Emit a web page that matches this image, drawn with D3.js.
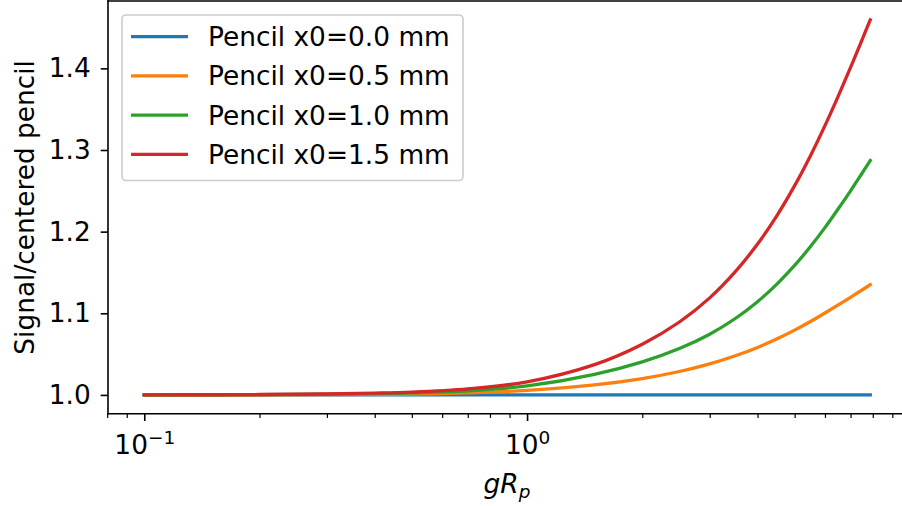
<!DOCTYPE html>
<html>
<head>
<meta charset="utf-8">
<script src="https://cdn.jsdelivr.net/npm/d3@7"></script>
<style>
  body { margin: 0; background: #fff; }
  svg { display: block; font-family: "DejaVu Sans", sans-serif; }
</style>
</head>
<body>
<svg id="chart" width="902" height="506"></svg>
<script>
// ---- data ----
const gValues = [0.1, 0.2, 0.3, 0.4, 0.5, 0.7, 1.0, 1.5, 2.0, 2.5, 3.0, 3.5, 4.0, 4.5, 5.0, 5.5, 6.0, 6.5, 7.0, 7.5, 7.88];
const pencil00 = [1.0, 1.0, 1.0, 1.0, 1.0, 1.0, 1.0, 1.0, 1.0, 1.0, 1.0, 1.0, 1.0, 1.0, 1.0, 1.0, 1.0, 1.0, 1.0, 1.0, 1.0];
const pencil05 = [1.0, 1.0001, 1.0003, 1.0006, 1.001, 1.0025, 1.0055, 1.0123, 1.0201, 1.0287, 1.038, 1.0479, 1.0582, 1.0688, 1.0794, 1.0899, 1.1003, 1.1102, 1.1196, 1.1285, 1.135];
const pencil10 = [1.0, 1.0003, 1.0008, 1.0015, 1.0025, 1.005, 1.011, 1.0252, 1.0405, 1.0568, 1.0744, 1.0936, 1.1142, 1.136, 1.1586, 1.1817, 1.2049, 1.228, 1.250, 1.2715, 1.287];
const pencil15 = [1.0, 1.0005, 1.0012, 1.0022, 1.0035, 1.0075, 1.016, 1.0371, 1.0621, 1.0893, 1.1189, 1.151, 1.1848, 1.22, 1.2563, 1.293, 1.3298, 1.366, 1.4011, 1.435, 1.4595];
const seriesNames = ["Pencil x0=0.0 mm", "Pencil x0=0.5 mm", "Pencil x0=1.0 mm", "Pencil x0=1.5 mm"];
const seriesColors = ["#1f77b4", "#ff7f0e", "#2ca02c", "#d62728"];
const yTicks = [1.0, 1.1, 1.2, 1.3, 1.4];
const xMajorTicks = [0.1, 1];
const xMajorLabels = [["10", "\u22121"], ["10", "0"]];
const xMinorTicks = [0.08, 0.09, 0.2, 0.3, 0.4, 0.5, 0.6, 0.7, 0.8, 0.9, 2, 3, 4, 5, 6, 7, 8, 9];

const series = [pencil00, pencil05, pencil10, pencil15];

// ---- layout ----
const svg = d3.select("#chart");
const pL = 108, pR = 906, pT = 1, pB = 413.7;
const FS = 26.4;

const x = d3.scaleLog().domain([0.0804, 9.77]).range([pL, pR]);
const y = d3.scaleLinear().domain([0.977, 1.4825]).range([pB, pT]);

svg.append("defs").append("clipPath").attr("id", "clip")
  .append("rect").attr("x", pL).attr("y", pT).attr("width", pR - pL).attr("height", pB - pT);

// lines
const line = d3.line()
  .x((d, i) => x(gValues[i]))
  .y(d => y(d))
  .curve(d3.curveCatmullRom.alpha(0.5));

const plot = svg.append("g").attr("clip-path", "url(#clip)");
series.forEach((s, k) => {
  plot.append("path")
    .datum(s)
    .attr("d", line)
    .attr("fill", "none")
    .attr("stroke", seriesColors[k])
    .attr("stroke-width", 3.3)
    .attr("stroke-linecap", "square");
});

// y axis
const yAxis = svg.append("g").attr("transform", `translate(${pL},0)`)
  .call(d3.axisLeft(y).tickValues(yTicks).tickFormat(d3.format(".1f")).tickSize(7.3).tickPadding(10));
yAxis.select(".domain").remove();
yAxis.selectAll(".tick line").attr("stroke", "#000").attr("stroke-width", 1.6);
yAxis.selectAll(".tick text").attr("font-size", FS).attr("fill", "#000")
  .attr("font-family", "DejaVu Sans");

// x axis major
const xAxis = svg.append("g").attr("transform", `translate(0,${pB})`)
  .call(d3.axisBottom(x).tickValues(xMajorTicks).tickFormat("").tickSize(7.3));
xAxis.select(".domain").remove();
xAxis.selectAll(".tick line").attr("stroke", "#000").attr("stroke-width", 1.6);
xAxis.selectAll(".tick").each(function(d, i) {
  const t = d3.select(this).append("text")
    .attr("y", 40.5)
    .attr("text-anchor", "middle")
    .attr("font-size", FS)
    .attr("fill", "#000")
    .attr("font-family", "DejaVu Sans");
  t.append("tspan").text(xMajorLabels[i][0]);
  t.append("tspan").attr("font-size", FS * 0.7).attr("dy", -10.5).text(xMajorLabels[i][1]);
});

// x axis minor
const xMinor = svg.append("g").attr("transform", `translate(0,${pB})`)
  .call(d3.axisBottom(x).tickValues(xMinorTicks).tickFormat("").tickSize(4.2));
xMinor.select(".domain").remove();
xMinor.selectAll(".tick line").attr("stroke", "#000").attr("stroke-width", 1.2);

// spines
svg.append("line").attr("x1", pL).attr("x2", pL).attr("y1", pT).attr("y2", pB)
  .attr("stroke", "#000").attr("stroke-width", 1.6).attr("stroke-linecap", "square");
svg.append("line").attr("x1", pL).attr("x2", pR).attr("y1", pB).attr("y2", pB)
  .attr("stroke", "#000").attr("stroke-width", 1.6).attr("stroke-linecap", "square");
svg.append("line").attr("x1", pL).attr("x2", pR).attr("y1", pT).attr("y2", pT)
  .attr("stroke", "#000").attr("stroke-width", 1.6).attr("stroke-linecap", "square");

// axis labels
svg.append("text")
  .attr("transform", `translate(34,${(pT + pB) / 2}) rotate(-90)`)
  .attr("text-anchor", "middle")
  .attr("font-size", FS)
  .attr("fill", "#000")
  .text("Signal/centered pencil");

const xl = svg.append("text")
  .attr("x", (pL + pR) / 2)
  .attr("y", 493)
  .attr("text-anchor", "middle")
  .attr("font-size", FS)
  .attr("font-style", "italic")
  .attr("fill", "#000");
xl.append("tspan").text("gR");
xl.append("tspan").attr("font-size", FS * 0.7).attr("dy", 5).text("p");

// legend
const legend = svg.append("g");
legend.append("rect")
  .attr("x", 122).attr("y", 15).attr("width", 341).attr("height", 165.5)
  .attr("rx", 4).attr("ry", 4)
  .attr("fill", "#fff").attr("fill-opacity", 0.8)
  .attr("stroke", "#cccccc").attr("stroke-width", 1.6);
seriesNames.forEach((name, k) => {
  const yy = 36.7 + k * 39.2;
  legend.append("line")
    .attr("x1", 131).attr("x2", 188).attr("y1", yy).attr("y2", yy)
    .attr("stroke", seriesColors[k]).attr("stroke-width", 3.3);
  legend.append("text")
    .attr("x", 208).attr("y", yy + 9.5)
    .attr("font-size", FS)
    .attr("fill", "#000")
    .text(name);
});
</script>
</body>
</html>
